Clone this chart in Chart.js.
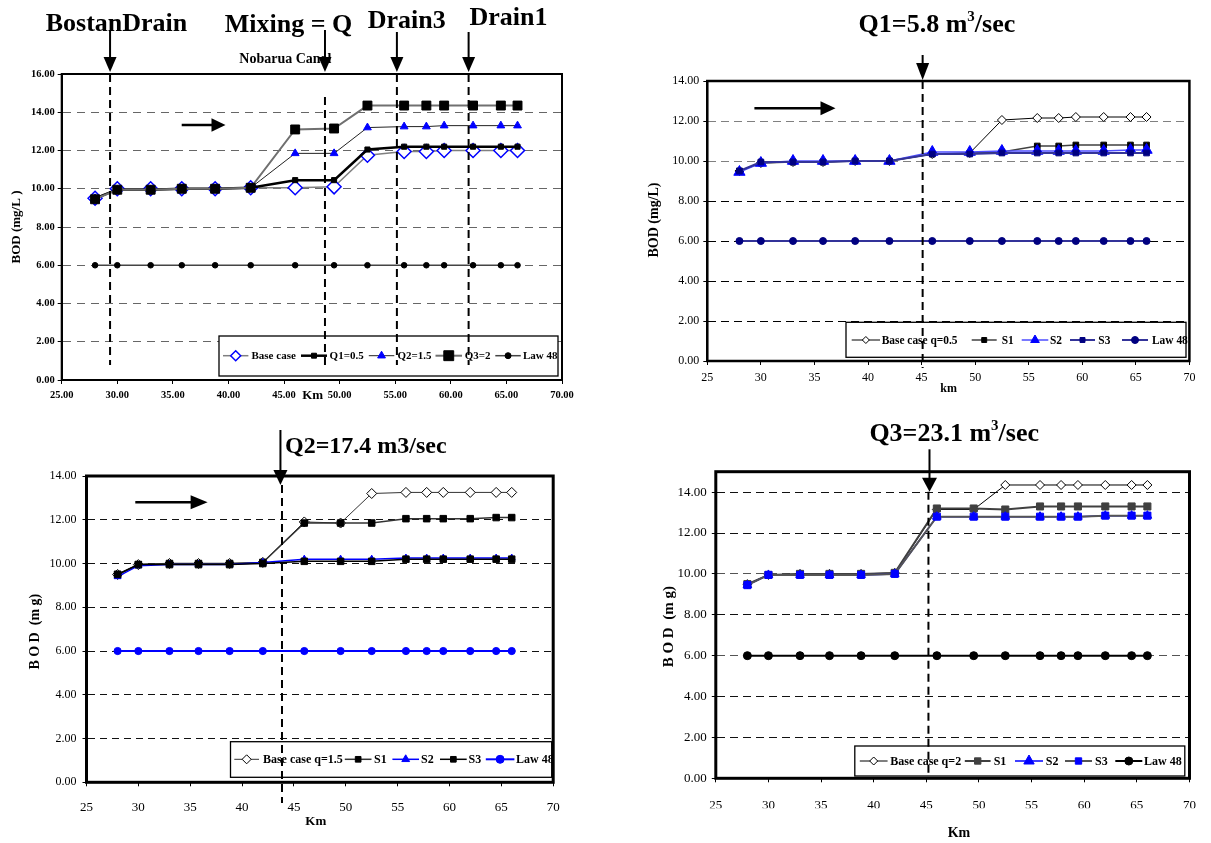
<!DOCTYPE html>
<html>
<head>
<meta charset="utf-8">
<script src="https://cdn.jsdelivr.net/npm/chart.js@4.4.1/dist/chart.umd.min.js"></script>
<style>
  html, body { margin: 0; padding: 0; background: #fff; }
  #wrap { position: relative; width: 1211px; height: 843px; overflow: hidden; }
  #wrap canvas { position: absolute; left: 0; top: 0; pointer-events: none; }
</style>
</head>
<body>
<div id="wrap">
  <canvas id="chartA" width="1211" height="843"></canvas>
  <canvas id="chartB" width="1211" height="843"></canvas>
  <canvas id="chartC" width="1211" height="843"></canvas>
  <canvas id="chartD" width="1211" height="843"></canvas>
</div>
<script>
// Distance along the canal (km) - same stations in all four panels
const km = [28, 30, 33, 35.8, 38.8, 42, 46, 49.5, 52.5, 55.8, 57.8, 59.4, 62, 64.5, 66];
const law48 = [6, 6, 6, 6, 6, 6, 6, 6, 6, 6, 6, 6, 6, 6, 6];

// Panel A - mixing ratios (BOD mg/L)
const labelsA = ['Base case', 'Q1=0.5', 'Q2=1.5', 'Q3=2', 'Law 48'];
const aBase = [9.5, 10.0, 10.0, 10.0, 10.0, 10.05, 10.05, 10.1, 11.75, 11.95, 11.95, 12.0, 12.0, 12.0, 12.0];
const aQ1 = [9.5, 9.95, 9.95, 10.0, 10.0, 10.05, 10.45, 10.45, 12.05, 12.2, 12.2, 12.2, 12.2, 12.2, 12.2];
const aQ2 = [9.5, 9.95, 9.95, 10.0, 10.0, 10.05, 11.85, 11.85, 13.2, 13.25, 13.25, 13.3, 13.3, 13.3, 13.3];
const aQ3 = [9.45, 9.95, 9.95, 10.0, 10.0, 10.05, 13.1, 13.15, 14.35, 14.35, 14.35, 14.35, 14.35, 14.35, 14.35];

// Panel B - Q1 = 5.8 m3/sec
const labelsB = ['Base case q=0.5', 'S1', 'S2', 'S3', 'Law 48'];
const bBase = [9.5, 9.9, 9.95, 9.95, 10.0, 10.0, 10.35, 10.4, 12.05, 12.15, 12.15, 12.2, 12.2, 12.2, 12.2];
const bS1 = [9.5, 9.9, 9.95, 9.95, 10.0, 10.0, 10.35, 10.4, 10.45, 10.75, 10.75, 10.8, 10.8, 10.8, 10.8];
const bS2 = [9.45, 9.9, 10.0, 10.0, 10.0, 10.0, 10.45, 10.45, 10.5, 10.5, 10.5, 10.5, 10.5, 10.55, 10.55];
const bS3 = [9.5, 9.95, 9.95, 9.95, 10.0, 10.0, 10.35, 10.35, 10.4, 10.4, 10.4, 10.4, 10.4, 10.4, 10.4];

// Panel C - Q2 = 17.4 m3/sec
const labelsC = ['Base case q=1.5', 'S1', 'S2', 'S3', 'Law 48'];
const cBase = [9.5, 9.95, 10.0, 10.0, 10.0, 10.05, 11.9, 11.85, 13.2, 13.25, 13.25, 13.25, 13.25, 13.25, 13.25];
const cS1 = [9.5, 9.95, 10.0, 10.0, 10.0, 10.05, 11.85, 11.85, 11.85, 12.05, 12.05, 12.05, 12.05, 12.1, 12.1];
const cS2 = [9.4, 9.9, 9.95, 9.95, 9.95, 10.05, 10.2, 10.2, 10.2, 10.25, 10.25, 10.25, 10.25, 10.25, 10.25];
const cS3 = [9.5, 9.95, 9.95, 9.95, 9.95, 10.0, 10.1, 10.1, 10.1, 10.2, 10.2, 10.2, 10.2, 10.2, 10.2];

// Panel D - Q3 = 23.1 m3/sec
const labelsD = ['Base case q=2', 'S1', 'S2', 'S3', 'Law 48'];
const dBase = [9.5, 9.95, 10.0, 10.0, 10.0, 10.05, 13.15, 13.15, 14.35, 14.35, 14.35, 14.35, 14.35, 14.35, 14.35];
const dS1 = [9.5, 9.95, 10.0, 10.0, 10.0, 10.05, 13.2, 13.2, 13.15, 13.3, 13.3, 13.3, 13.3, 13.3, 13.3];
const dS2 = [9.45, 9.95, 9.95, 9.95, 9.95, 10.0, 12.8, 12.8, 12.8, 12.8, 12.8, 12.8, 12.85, 12.85, 12.85];
const dS3 = [9.45, 9.95, 9.95, 9.95, 9.95, 10.0, 12.8, 12.8, 12.8, 12.8, 12.8, 12.8, 12.85, 12.85, 12.85];

const SERIF = "'Liberation Serif', 'Times New Roman', serif";
Chart.defaults.font.family = SERIF;
Chart.defaults.color = '#000';

const PAGE_W = 1211, PAGE_H = 843;
const YW = 40, XH = 30;

function pts(ys) {
    return km.map((x, i) => ({ x: x, y: ys[i] }));
}

function drawMarker(ctx, style, r, x, y) {
    ctx.beginPath();
    if (style === 'circle') {
        ctx.arc(x, y, r, 0, Math.PI * 2);
    } else if (style === 'rect') {
        const s = r * Math.SQRT1_2;
        ctx.rect(x - s, y - s, 2 * s, 2 * s);
    } else if (style === 'rectRot') {
        ctx.moveTo(x - r, y); ctx.lineTo(x, y - r); ctx.lineTo(x + r, y); ctx.lineTo(x, y + r);
        ctx.closePath();
    } else if (style === 'triangle') {
        for (let k = 0; k < 3; k++) {
            const a = k * 2 * Math.PI / 3;
            const px = x + Math.sin(a) * r, py = y - Math.cos(a) * r;
            if (k === 0) ctx.moveTo(px, py); else ctx.lineTo(px, py);
        }
        ctx.closePath();
    }
    ctx.fill();
    ctx.stroke();
}

function arrowDown(ctx, x, y1, y2, head, half, lw) {
    ctx.lineWidth = lw;
    ctx.beginPath(); ctx.moveTo(x, y1); ctx.lineTo(x, y2 - head + 1); ctx.stroke();
    ctx.beginPath(); ctx.moveTo(x - half, y2 - head); ctx.lineTo(x + half, y2 - head); ctx.lineTo(x, y2);
    ctx.closePath(); ctx.fill();
}

function arrowRight(ctx, x1, x2, y, head, half, lw) {
    ctx.lineWidth = lw;
    ctx.beginPath(); ctx.moveTo(x1, y); ctx.lineTo(x2 - head + 1, y); ctx.stroke();
    ctx.beginPath(); ctx.moveTo(x2 - head, y - half); ctx.lineTo(x2 - head, y + half); ctx.lineTo(x2, y);
    ctx.closePath(); ctx.fill();
}

function drawText(ctx, t) {
    ctx.save();
    ctx.fillStyle = '#000';
    ctx.textAlign = t.align || 'left';
    ctx.textBaseline = t.base || 'alphabetic';
    ctx.translate(t.x, t.y);
    if (t.rot) ctx.rotate(t.rot);
    if (t.sx) ctx.scale(t.sx, 1);
    if (t.parts) {
        let cx = 0;
        t.parts.forEach(p => {
            ctx.font = p[1] + ' ' + SERIF;
            ctx.fillText(p[0], cx, p[2]);
            cx += ctx.measureText(p[0]).width;
        });
    } else {
        ctx.font = t.font + ' ' + SERIF;
        ctx.fillText(t.s, 0, 0);
    }
    ctx.restore();
}

// Arrows, dashed station lines, in-plot legend, frame and labels
function decoPlugin(spec) {
    return {
        id: 'deco',
        afterDraw(chart) {
            const ctx = chart.ctx;
            const area = chart.chartArea;
            const xs = chart.scales.x;
            ctx.save();

            // legend box inside the plot
            const lg = spec.legend;
            const [bx1, by1, bx2, by2] = lg.box;
            ctx.fillStyle = '#fff';
            ctx.fillRect(bx1, by1, bx2 - bx1, by2 - by1);
            ctx.strokeStyle = '#000';
            ctx.lineWidth = 1.3;
            ctx.strokeRect(bx1, by1, bx2 - bx1, by2 - by1);
            lg.items.forEach((it, i) => {
                const ds = chart.data.datasets[i];
                ctx.strokeStyle = ds.borderColor;
                ctx.lineWidth = ds.borderWidth;
                ctx.beginPath(); ctx.moveTo(it[0], lg.cy); ctx.lineTo(it[1], lg.cy); ctx.stroke();
                ctx.fillStyle = ds.pointBackgroundColor;
                ctx.strokeStyle = ds.pointBorderColor;
                ctx.lineWidth = ds.pointBorderWidth;
                drawMarker(ctx, ds.pointStyle, it[3], (it[0] + it[1]) / 2, lg.cy);
                drawText(ctx, { s: ds.label, x: it[2], y: lg.cy + 0.5, font: lg.font, base: 'middle', sx: lg.sx });
            });

            // dashed vertical lines at the stations
            ctx.strokeStyle = '#000';
            ctx.lineWidth = 2;
            ctx.setLineDash([8, 5]);
            spec.vlines.forEach(v => {
                const x = xs.getPixelForValue(v.at);
                ctx.beginPath(); ctx.moveTo(x, v.y1); ctx.lineTo(x, v.y2); ctx.stroke();
            });
            ctx.setLineDash([]);

            // arrows
            ctx.fillStyle = '#000';
            ctx.strokeStyle = '#000';
            spec.arrows.forEach(a => {
                arrowDown(ctx, xs.getPixelForValue(a.at), a.y1, a.y2, a.head, a.half, 2);
            });
            if (spec.flow) {
                const f = spec.flow;
                arrowRight(ctx, f.x1, f.x2, f.y, f.head, f.half, 2.5);
            }

            // plot frame
            ctx.strokeStyle = '#000';
            ctx.lineWidth = spec.frame;
            ctx.strokeRect(area.left, area.top, area.right - area.left, area.bottom - area.top);

            spec.texts.forEach(t => drawText(ctx, t));
            ctx.restore();
        }
    };
}

function buildChart(id, box, yMax, series, labels, styles, opts, spec) {
    const datasets = series.map((ys, i) => Object.assign({
        label: labels[i],
        data: pts(ys),
        order: series.length - i,
        tension: 0,
        fill: false
    }, styles[i]));

    return new Chart(document.getElementById(id), {
        type: 'line',
        data: { datasets: datasets },
        options: {
            responsive: false,
            animation: false,
            devicePixelRatio: 1,
            events: [],
            layout: {
                padding: { left: box.L - YW, top: box.T, right: PAGE_W - box.R, bottom: PAGE_H - box.B - XH }
            },
            plugins: { legend: { display: false }, tooltip: { enabled: false } },
            scales: {
                x: {
                    type: 'linear', min: 25, max: 70,
                    afterFit: s => { s.height = XH; },
                    ticks: { stepSize: 5, font: opts.xFont, padding: opts.xPad, callback: opts.xFmt, maxRotation: 0, autoSkip: false },
                    grid: { drawOnChartArea: false, tickLength: 4, tickColor: '#000' },
                    border: { color: '#000', width: 2 }
                },
                y: {
                    type: 'linear', min: 0, max: yMax,
                    afterFit: s => { s.width = YW; },
                    ticks: { stepSize: 2, font: opts.yFont, padding: opts.yPad, includeBounds: false, callback: v => v.toFixed(2) },
                    grid: { color: opts.gridColor, lineWidth: 1, tickLength: 4, tickColor: '#000' },
                    border: { color: '#000', width: 2, dash: opts.dash }
                }
            }
        },
        plugins: [decoPlugin(spec)]
    });
}

function pointStyleOf(line, lw, shape, r, fill, stroke, sw) {
    return {
        borderColor: line, borderWidth: lw,
        pointStyle: shape, pointRadius: r,
        pointBackgroundColor: fill, pointBorderColor: stroke, pointBorderWidth: sw
    };
}

// ---------- Panel A ----------
buildChart('chartA', { L: 61.7, R: 562, T: 74, B: 380 }, 16,
    [aBase, aQ1, aQ2, aQ3, law48], labelsA,
    [
        pointStyleOf('#808080', 1.5, 'rectRot', 7, '#fff', '#0000ff', 1.5),
        pointStyleOf('#000', 2.5, 'rect', 3.6, '#000', '#000', 1),
        pointStyleOf('#222', 1, 'triangle', 4.5, '#0000ff', '#0000ff', 1),
        pointStyleOf('#707070', 2, 'rect', 6.3, '#000', '#000', 1),
        pointStyleOf('#444', 1.5, 'circle', 2.8, '#000', '#000', 1)
    ],
    {
        xFont: { size: 10.5, weight: 'bold' }, yFont: { size: 10.5, weight: 'bold' },
        xPad: 5, yPad: 3, xFmt: v => v.toFixed(2), gridColor: '#666', dash: [8, 6]
    },
    {
        frame: 2,
        legend: {
            box: [219, 336, 558, 376], cy: 355.7, font: 'bold 11px',
            items: [[223, 248.4, 251.5, 5], [301, 327, 329.6, 3.5], [368.8, 394.3, 397.4, 4.5], [435.5, 462, 464.8, 7], [495.3, 520.8, 523, 3]]
        },
        vlines: [{ at: 29.35, y1: 74, y2: 365 }, { at: 48.68, y1: 97, y2: 365 }, { at: 55.15, y1: 74, y2: 365 }, { at: 61.6, y1: 74, y2: 365 }],
        arrows: [
            { at: 29.35, y1: 30, y2: 72, head: 15, half: 6.5 },
            { at: 48.68, y1: 30, y2: 72, head: 15, half: 6.5 },
            { at: 55.15, y1: 32, y2: 72, head: 15, half: 6.5 },
            { at: 61.6, y1: 32, y2: 72, head: 15, half: 6.5 }
        ],
        flow: { x1: 181.7, x2: 225.5, y: 125, head: 14, half: 6.7 },
        texts: [
            { s: 'BostanDrain', x: 45.7, y: 30.7, font: 'bold 26px' },
            { s: 'Mixing = Q', x: 224.8, y: 31.7, font: 'bold 26px' },
            { s: 'Drain3', x: 367.7, y: 28.3, font: 'bold 26px' },
            { s: 'Drain1', x: 469.4, y: 25, font: 'bold 26px' },
            { s: 'Nobarua Canal', x: 239.3, y: 63.3, font: 'bold 14px' },
            { s: 'Km', x: 312.7, y: 396, font: 'bold 13px', align: 'center', base: 'middle' },
            { s: 'BOD (mg/L )', x: 17, y: 227, font: 'bold 13px', align: 'center', base: 'middle', rot: -Math.PI / 2 }
        ]
    });

// ---------- Panel B ----------
buildChart('chartB', { L: 707.3, R: 1189.4, T: 81, B: 361 }, 14,
    [bBase, bS1, bS2, bS3, law48], labelsB,
    [
        pointStyleOf('#000', 1, 'rectRot', 4.5, '#fff', '#000', 1),
        pointStyleOf('#404040', 1.5, 'rect', 4, '#000', '#000', 1),
        pointStyleOf('#4d4dff', 1.5, 'triangle', 6.5, '#0000ff', '#0000ff', 1),
        pointStyleOf('#333399', 2, 'rect', 4, '#000080', '#000080', 1),
        pointStyleOf('#333399', 2, 'circle', 3.5, '#000080', '#000080', 1)
    ],
    {
        xFont: { size: 12 }, yFont: { size: 12 }, xPad: 6, yPad: 4, xFmt: v => v,
        gridColor: c => (c.tick && (c.tick.value === 10 || c.tick.value === 12)) ? '#808080' : '#000',
        dash: [8, 5]
    },
    {
        frame: 2.5,
        legend: {
            box: [846, 322.3, 1186, 357.3], cy: 340, font: 'bold 12px', sx: 0.95,
            items: [[851.7, 880, 881.7, 3.5], [971.7, 996.7, 1001.7, 3.5], [1021.7, 1048.3, 1050, 5], [1070, 1095, 1098.3, 3.5], [1122, 1148, 1152, 3.5]]
        },
        vlines: [{ at: 45.1, y1: 81, y2: 368 }],
        arrows: [{ at: 45.1, y1: 55, y2: 80, head: 17, half: 6.5 }],
        flow: { x1: 754.4, x2: 835.5, y: 108.3, head: 15, half: 7 },
        texts: [
            { x: 858.6, y: 31.7, parts: [['Q1=5.8 m', 'bold 26px', 0], ['3', 'bold 15px', -11], ['/sec', 'bold 26px', 0]] },
            { s: 'km', x: 948.6, y: 389, font: 'bold 12px', align: 'center', base: 'middle' },
            { s: 'BOD (mg/L)', x: 654, y: 220, font: 'bold 14px', align: 'center', base: 'middle', rot: -Math.PI / 2 }
        ]
    });

// ---------- Panel C ----------
buildChart('chartC', { L: 86.5, R: 553.2, T: 476, B: 782.3 }, 14,
    [cBase, cS1, cS2, cS3, law48], labelsC,
    [
        pointStyleOf('#333', 1, 'rectRot', 5, '#fff', '#000', 1),
        pointStyleOf('#333', 1.5, 'rect', 4.6, '#000', '#000', 1),
        pointStyleOf('#0000ff', 1.5, 'triangle', 4, '#0000ff', '#0000ff', 1),
        pointStyleOf('#000', 1.5, 'rect', 4.6, '#000', '#000', 1),
        pointStyleOf('#0000ff', 2, 'circle', 3.6, '#0000ff', '#0000ff', 1)
    ],
    {
        xFont: { size: 13 }, yFont: { size: 12 }, xPad: 13, yPad: 6, xFmt: v => v,
        gridColor: '#111', dash: [7, 5]
    },
    {
        frame: 3,
        legend: {
            box: [230.5, 741.7, 551.7, 777.3], cy: 759.3, font: 'bold 12px',
            items: [[234.3, 259, 262.9, 4.5], [344.8, 371.5, 374, 4], [392.4, 419, 421, 4.5], [440, 466.7, 468.6, 4], [485.8, 514.4, 516, 4]]
        },
        vlines: [{ at: 43.85, y1: 485, y2: 803 }],
        arrows: [{ at: 43.7, y1: 430, y2: 485, head: 15, half: 7 }],
        flow: { x1: 135.3, x2: 207.6, y: 502.3, head: 17, half: 7 },
        texts: [
            { s: 'Q2=17.4 m3/sec', x: 285, y: 453.3, font: 'bold 24px' },
            { s: 'Km', x: 315.8, y: 821.7, font: 'bold 13px', align: 'center', base: 'middle' },
            { s: 'B O D  (m g)', x: 35, y: 631.7, font: 'bold 14px', align: 'center', base: 'middle', rot: -Math.PI / 2 }
        ]
    });

// ---------- Panel D ----------
buildChart('chartD', { L: 715.8, R: 1192.5, T: 471.7, B: 778.3 }, 15,
    [dBase, dS1, dS2, dS3, law48], labelsD,
    [
        pointStyleOf('#000', 1, 'rectRot', 4.5, '#fff', '#000', 1),
        pointStyleOf('#404040', 2, 'rect', 5, '#404040', '#404040', 1),
        pointStyleOf('#0000ff', 1.5, 'triangle', 5, '#0000ff', '#0000ff', 1),
        pointStyleOf('#555', 2, 'rect', 5, '#0000ff', '#0000ff', 1),
        pointStyleOf('#000', 2, 'circle', 4, '#000', '#000', 1)
    ],
    {
        xFont: { size: 13 }, yFont: { size: 13 }, xPad: 15, yPad: 5, xFmt: v => v,
        gridColor: c => (c.tick && (c.tick.value === 10 || c.tick.value === 6)) ? '#555' : '#111',
        dash: [8, 5]
    },
    {
        frame: 3,
        legend: {
            box: [854.8, 746, 1184.8, 776], cy: 761, font: 'bold 12px',
            items: [[859.8, 887.6, 890.3, 4], [964.8, 990.6, 993.7, 4.5], [1015, 1043, 1045.8, 6], [1065, 1092, 1095, 4.5], [1115.3, 1142.3, 1144, 4]]
        },
        vlines: [{ at: 45.2, y1: 491.7, y2: 775 }],
        arrows: [{ at: 45.3, y1: 449.3, y2: 491.7, head: 14, half: 7.5 }],
        texts: [
            { x: 869.4, y: 440.7, parts: [['Q3=23.1 m', 'bold 26px', 0], ['3', 'bold 15px', -11], ['/sec', 'bold 26px', 0]] },
            { s: 'Km', x: 959, y: 833.3, font: 'bold 14px', align: 'center', base: 'middle' },
            { s: 'B O D  (m g)', x: 669.5, y: 626.7, font: 'bold 15px', align: 'center', base: 'middle', rot: -Math.PI / 2 }
        ]
    });
</script>
</body>
</html>
